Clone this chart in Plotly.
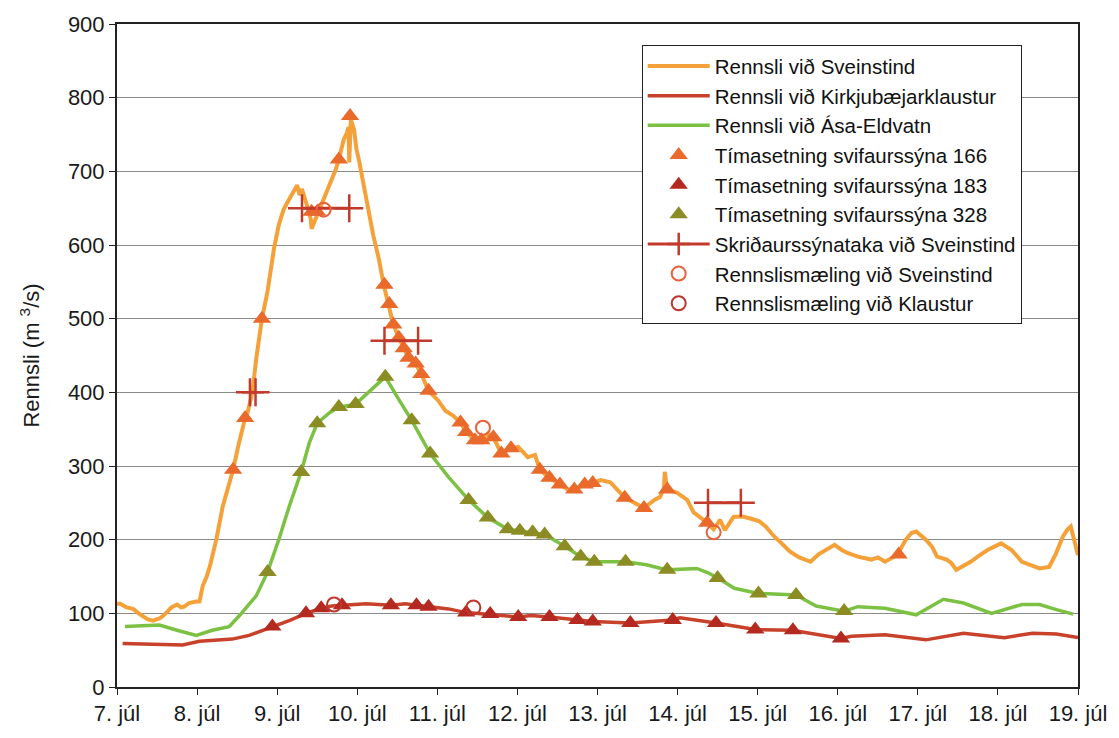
import plotly.graph_objects as go

# Time axis: days counted from 7. júlí 00:00
day_labels = ["7. júl", "8. júl", "9. júl", "10. júl", "11. júl", "12. júl", "13. júl",
              "14. júl", "15. júl", "16. júl", "17. júl", "18. júl", "19. júl"]

# Rennsli við Sveinstind (m3/s)
sveinstind_t = [0.00, 0.04, 0.12, 0.20, 0.27, 0.32, 0.38, 0.45, 0.53, 0.58, 0.62, 0.68, 0.75, 0.80,
                0.84, 0.90, 0.99, 1.03, 1.07, 1.12, 1.16, 1.24, 1.32, 1.40, 1.45, 1.52, 1.60, 1.63,
                1.69, 1.74, 1.81, 1.88, 1.96, 2.02, 2.08, 2.15, 2.20, 2.25, 2.28, 2.31, 2.36, 2.42,
                2.43, 2.48, 2.52, 2.56, 2.62, 2.68, 2.73, 2.77, 2.83, 2.87, 2.89, 2.90, 2.92, 2.96,
                2.99, 3.02, 3.08, 3.14, 3.20, 3.27, 3.33, 3.39, 3.45, 3.52, 3.58, 3.64, 3.73, 3.80,
                3.89, 4.01, 4.10, 4.20, 4.29, 4.36, 4.47, 4.55, 4.63, 4.70, 4.80, 4.92, 5.01, 5.13,
                5.22, 5.28, 5.40, 5.53, 5.63, 5.71, 5.84, 5.94, 6.04, 6.16, 6.25, 6.34, 6.46, 6.58,
                6.71, 6.78, 6.83, 6.84, 6.87, 6.99, 7.12, 7.20, 7.37, 7.45, 7.53, 7.59, 7.70, 7.83,
                7.93, 8.02, 8.10, 8.20, 8.30, 8.40, 8.52, 8.66, 8.76, 8.87, 8.96, 9.05, 9.12, 9.25,
                9.42, 9.50, 9.59, 9.74, 9.85, 9.92, 9.98, 10.10, 10.18, 10.24, 10.36, 10.42, 10.48,
                10.56, 10.66, 10.76, 10.87, 11.04, 11.17, 11.30, 11.42, 11.52, 11.64, 11.72, 11.81,
                11.87, 11.91, 11.95, 12.00]
sveinstind_q = [113, 113, 108, 106, 100, 96, 92, 90, 93, 97, 102, 108, 112, 108,
                109, 114, 116, 116, 137, 150, 164, 200, 245, 277, 295, 330, 365, 372,
                400, 447, 500, 537, 595, 627, 648, 662, 672, 681, 668, 676, 658, 635,
                622, 635, 648, 658, 671, 689, 702, 716, 743, 752, 760, 712, 770, 757,
                730, 716, 681, 649, 613, 581, 546, 519, 492, 474, 460, 447, 439, 425,
                402, 389, 375, 368, 359, 346, 335, 335, 344, 339, 317, 324, 326, 312,
                315, 295, 284, 275, 268, 268, 275, 277, 281, 278, 268, 257, 250, 243,
                254, 258, 270, 292, 268, 264, 254, 237, 223, 214, 227, 213, 231, 231,
                228, 225, 218, 205, 195, 184, 176, 170, 180, 188, 193, 186, 182, 177,
                173, 176, 170, 179, 200, 209, 211, 200, 190, 177, 173, 168, 159,
                164, 170, 178, 186, 195, 186, 170, 165, 161, 163, 180, 204,
                214, 218, 200, 179]

# Rennsli við Kirkjubæjarklaustur (m3/s)
klaustur_t = [0.07, 0.82, 1.03, 1.44, 1.65, 1.94, 2.15, 2.36, 2.55, 2.68, 2.81, 3.11, 3.42, 3.60,
              3.74, 3.89, 4.14, 4.36, 4.66, 4.80, 5.01, 5.17, 5.40, 5.75, 5.94, 6.41, 6.93, 7.03,
              7.48, 7.97, 8.43, 9.04, 9.17, 9.59, 10.10, 10.57, 11.08, 11.43, 11.73, 12.00]
klaustur_q = [59, 57, 62, 65, 70, 82, 90, 100, 107, 110, 111, 113, 111, 113,
              111, 109, 106, 101, 99, 97, 95, 97, 95, 91, 89, 87, 91, 94,
              87, 78, 77, 66, 69, 71, 64, 73, 67, 73, 72, 67]

# Rennsli við Ása-Eldvatn (m3/s)
eldvatn_t = [0.10, 0.53, 0.75, 0.99, 1.19, 1.40, 1.53, 1.74, 1.88, 2.02, 2.15, 2.30, 2.40, 2.50,
             2.65, 2.77, 2.98, 3.14, 3.35, 3.52, 3.68, 3.91, 4.14, 4.39, 4.63, 4.88, 5.03, 5.19,
             5.34, 5.59, 5.79, 5.96, 6.35, 6.61, 6.87, 7.24, 7.38, 7.50, 7.71, 8.01, 8.48, 8.73,
             9.08, 9.25, 9.59, 9.98, 10.10, 10.32, 10.57, 10.92, 11.30, 11.52, 11.73, 11.94]
eldvatn_q = [82, 84, 77, 70, 77, 82, 97, 124, 156, 200, 245, 292, 331, 358,
             372, 380, 384, 400, 421, 390, 362, 317, 285, 254, 230, 214, 212, 210,
             207, 191, 177, 170, 170, 166, 159, 161, 155, 148, 134, 127, 125, 110,
             103, 109, 107, 98, 105, 119, 114, 100, 112, 112, 105, 99]

# Tímasetning svifaurssýna 166
s166_t = [1.45, 1.60, 1.81, 2.43, 2.50, 2.77, 2.91, 3.34, 3.40, 3.45, 3.52, 3.58, 3.64, 3.73,
          3.80, 3.89, 4.29, 4.36, 4.47, 4.55, 4.70, 4.80, 4.92, 5.28, 5.40, 5.53, 5.71, 5.84,
          5.94, 6.34, 6.58, 6.87, 7.37, 9.76]
s166_q = [295, 365, 500, 645, 645, 716, 775, 546, 520, 492, 474, 460, 447, 439,
          425, 402, 359, 346, 335, 335, 339, 317, 324, 295, 284, 275, 268, 275,
          277, 257, 243, 268, 223, 180]

# Tímasetning svifaurssýna 183
s183_t = [1.94, 2.36, 2.55, 2.81, 3.42, 3.74, 3.89, 4.36, 4.66, 5.01, 5.40, 5.75, 5.94, 6.41,
          6.94, 7.48, 7.97, 8.44, 9.04]
s183_q = [82, 100, 107, 111, 111, 111, 109, 101, 99, 95, 95, 91, 89, 87,
          91, 87, 78, 77, 66]

# Tímasetning svifaurssýna 328
s328_t = [1.88, 2.30, 2.50, 2.77, 2.98, 3.35, 3.68, 3.91, 4.39, 4.63, 4.88, 5.03, 5.19, 5.34,
          5.59, 5.79, 5.96, 6.35, 6.87, 7.50, 8.01, 8.48, 9.08]
s328_q = [156, 292, 358, 380, 384, 421, 362, 317, 254, 230, 214, 212, 210, 207,
          191, 177, 170, 170, 159, 148, 127, 125, 103]

# Skriðaurssýnataka við Sveinstind: start/end of each sampling period (None splits periods)
bed_t = [1.66, 1.73, None, 2.31, 2.90, None, 3.34, 3.76, None, 7.38, 7.79]
bed_q = [400, 400, None, 650, 650, None, 470, 470, None, 250, 250]

# Rennslismælingar
meas_sv_t = [2.58, 4.57, 7.45]
meas_sv_q = [648, 352, 210]
meas_kl_t = [2.71, 4.45]
meas_kl_q = [112, 108]

FONT = "Liberation Sans, Arial, sans-serif"

fig = go.Figure()
fig.add_trace(go.Scatter(x=sveinstind_t, y=sveinstind_q, mode="lines",
                         name="Rennsli við Sveinstind",
                         line=dict(color="#F4A13A", width=4)))
fig.add_trace(go.Scatter(x=klaustur_t, y=klaustur_q, mode="lines",
                         name="Rennsli við Kirkjubæjarklaustur",
                         line=dict(color="#C8412B", width=3.5)))
fig.add_trace(go.Scatter(x=eldvatn_t, y=eldvatn_q, mode="lines",
                         name="Rennsli við Ása-Eldvatn",
                         line=dict(color="#7CC143", width=3.5)))
fig.add_trace(go.Scatter(x=s166_t, y=s166_q, mode="markers",
                         name="Tímasetning svifaurssýna 166",
                         marker=dict(symbol="triangle-up", size=16, color="#EA6A2C")))
fig.add_trace(go.Scatter(x=s183_t, y=s183_q, mode="markers",
                         name="Tímasetning svifaurssýna 183",
                         marker=dict(symbol="triangle-up", size=16, color="#B42A20")))
fig.add_trace(go.Scatter(x=s328_t, y=s328_q, mode="markers",
                         name="Tímasetning svifaurssýna 328",
                         marker=dict(symbol="triangle-up", size=16, color="#8C8C24")))
fig.add_trace(go.Scatter(x=bed_t, y=bed_q, mode="lines+markers",
                         name="Skriðaurssýnataka við Sveinstind",
                         line=dict(color="#C23A2C", width=3),
                         marker=dict(symbol="cross-thin", size=20, color="#C23A2C",
                                     line=dict(color="#C23A2C", width=2.5))))
fig.add_trace(go.Scatter(x=meas_sv_t, y=meas_sv_q, mode="markers",
                         name="Rennslismæling við Sveinstind",
                         marker=dict(symbol="circle-open", size=14, color="#E8613A",
                                     line=dict(color="#E8613A", width=2))))
fig.add_trace(go.Scatter(x=meas_kl_t, y=meas_kl_q, mode="markers",
                         name="Rennslismæling við Klaustur",
                         marker=dict(symbol="circle-open", size=14, color="#C0352E",
                                     line=dict(color="#C0352E", width=2))))

fig.update_layout(
    width=1119, height=738,
    margin=dict(l=117, r=36, t=20, b=49),
    paper_bgcolor="white", plot_bgcolor="white",
    font=dict(family=FONT, size=20, color="#1a1a1a"),
    showlegend=True,
    legend=dict(x=0.546, y=0.968, xanchor="left", yanchor="top",
                bgcolor="white", bordercolor="#222222", borderwidth=1,
                font=dict(family=FONT, size=20.5, color="#111111"),
                itemwidth=62, tracegroupgap=0),
)
fig.update_xaxes(range=[0, 12], tickmode="array", tickvals=list(range(len(day_labels))),
                 ticktext=day_labels, ticks="outside", ticklen=6, tickcolor="#222222",
                 showline=True, linecolor="#222222", linewidth=2, mirror=True,
                 showgrid=False, zeroline=False,
                 tickfont=dict(family=FONT, size=22, color="#1a1a1a"))
fig.update_yaxes(range=[0, 900], dtick=100, ticks="outside", ticklen=6, tickcolor="#222222",
                 showline=True, linecolor="#222222", linewidth=2, mirror=True,
                 showgrid=True, gridcolor="#8a8a8a", gridwidth=1, zeroline=False,
                 tickfont=dict(family=FONT, size=22, color="#1a1a1a"),
                 title=dict(text="Rennsli (m <sup>3</sup>/s)", standoff=22,
                            font=dict(family=FONT, size=22, color="#1a1a1a")))

fig.write_html("out.html")
